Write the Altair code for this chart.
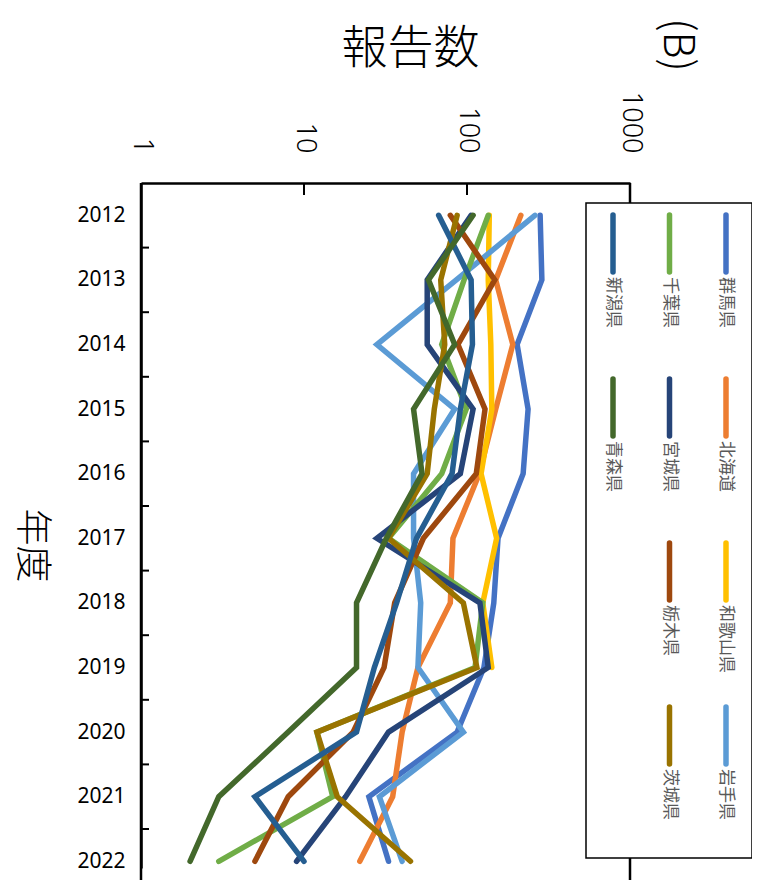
import altair as alt
import pandas as pd

years = list(range(2012, 2023))
prefs = ["群馬県", "北海道", "和歌山県", "岩手県", "千葉県",
         "宮城県", "栃木県", "茨城県", "新潟県", "青森県"]
colors = ["#4472C4", "#ED7D31", "#FFC000", "#5B9BD5", "#70AD47",
          "#264478", "#9E480E", "#997300", "#255E91", "#43682B"]

gunma    = [281, 288, 203, 237, 221, 155, 146, 127, 87, 25, 33]
hokkaido = [214, 150, 191, 150, 119, 82, 79, 50, 40, 35, 22]
wakayama = [137, 135, 140, 142, 122, 152, 125, 142, None, None, None]
iwate    = [261, 86, 28, 84, 47, 47, 52, 50, 95, 29, 40]
chiba    = [135, 96, 70, 99, 70, 33, 125, 112, 12, 15, 3]
miyagi   = [106, 57, 57, 109, 91, 28, 120, 135, 33, 18, 9]
tochigi  = [79, 148, 88, 129, 114, 54, 36, 31, 20, 8, 5]
ibaraki  = [87, 69, 73, 63, 57, 33, 95, 115, 12, 16, 45]
niigata  = [67, 106, 108, 91, 81, 49, 37, 27, 21, 5, 10]
aomori   = [109, 58, 84, 47, 53, 32, 21, 21, 8, 3, 2]

x_ticks = [1, 10, 100, 1000]

series = [gunma, hokkaido, wakayama, iwate, chiba,
          miyagi, tochigi, ibaraki, niigata, aomori]

rows = []
for p, vals in zip(prefs, series):
    for y, v in zip(years, vals):
        if v is not None:
            rows.append({"pref": p, "year": y, "count": v})
df = pd.DataFrame(rows)

W, H = 489, 685
PX_PER_YEAR = 64.6
y_domain = [2011.5, 2011.5 + H / PX_PER_YEAR]

color_scale = alt.Scale(domain=prefs, range=colors)
x_scale = alt.Scale(type="log", domain=[1, 1000], nice=False)
y_scale = alt.Scale(domain=y_domain, reverse=True, nice=False, zero=False)

JP = "Noto Sans CJK JP"

lines = alt.Chart(df).mark_line(strokeWidth=5.5, strokeCap="round", clip=False).encode(
    x=alt.X("count:Q", scale=x_scale,
            axis=alt.Axis(orient="top", values=x_ticks, format="d",
                          labelAngle=90, labelAlign="right", labelBaseline="middle",
                          labelFontSize=27, labelPadding=30, labelFont="Noto Sans",
                          labelFontWeight=300,
                          labelColor="black", labelFlush=False, labelOverlap=False,
                          ticks=False, grid=False, domainColor="black", domainWidth=2.5,
                          title="報告数", titleFont=JP, titleFontSize=46,
                          titleFontWeight=300, titleColor="black",
                          titleX=269, titleY=-135, titleAlign="center",
                          titleBaseline="middle")),
    y=alt.Y("year:Q", scale=y_scale,
            axis=alt.Axis(values=years, format="d", ticks=False, grid=False,
                          labelFontSize=21, labelPadding=16, labelFont="Noto Sans",
                          labelColor="black", labelFlush=False, labelOverlap=False,
                          domainColor="black", domainWidth=2.5,
                          title="年度", titleFont=JP, titleFontSize=37,
                          titleFontWeight=300, titleColor="black",
                          titleAngle=90, titleX=-111, titleY=362,
                          titleAlign="center", titleBaseline="middle")),
    color=alt.Color("pref:N", scale=color_scale, legend=None),
    order=alt.Order("year:Q"),
)

# inward tick marks
ytick_df = pd.DataFrame({"year": [y + 0.5 for y in years[:-1]]})
yticks = alt.Chart(ytick_df).mark_rule(color="black", strokeWidth=2).encode(
    y=alt.Y("year:Q", scale=y_scale), x=alt.value(0), x2=alt.value(8))

xtick_df = pd.DataFrame({"count": x_ticks[1:-1]})
xticks = alt.Chart(xtick_df).mark_rule(color="black", strokeWidth=2).encode(
    x=alt.X("count:Q", scale=x_scale), y=alt.value(0), y2=alt.value(12))

border_df = pd.DataFrame({"count": [x_ticks[0], x_ticks[-1]]})
side_borders = alt.Chart(border_df).mark_rule(color="black", strokeWidth=2.5).encode(
    x=alt.X("count:Q", scale=x_scale), y=alt.value(0), y2=alt.value(H + 12))

one = pd.DataFrame({"k": [0]})
legend_box = alt.Chart(one).mark_rect(fill="white", stroke="black", strokeWidth=1.5).encode(
    x=alt.value(445), x2=alt.value(611), y=alt.value(20), y2=alt.value(675))

leg_rows = []
for i, p in enumerate(prefs):
    col, row = i // 4, i % 4
    lx = 585 - col * 56.5
    ly = 32 + row * 164
    leg_rows.append({"pref": p, "lx": lx, "ly": ly, "ly2": ly + 57, "ty": ly + 62})
leg_df = pd.DataFrame(leg_rows)

leg_lines = alt.Chart(leg_df).mark_rule(strokeWidth=5.5, strokeCap="round").encode(
    x=alt.X("lx:Q", scale=None, axis=None),
    y=alt.Y("ly:Q", scale=None, axis=None),
    y2="ly2:Q",
    color=alt.Color("pref:N", scale=color_scale, legend=None),
)
leg_text = alt.Chart(leg_df).mark_text(angle=90, align="left", baseline="middle",
                                       fontSize=17, font=JP, color="#595959").encode(
    x=alt.X("lx:Q", scale=None, axis=None),
    y=alt.Y("ty:Q", scale=None, axis=None),
    text="pref:N",
)

panel_label = alt.Chart(one).mark_text(angle=90, align="center", baseline="middle",
                                       fontSize=42, font=JP, fontWeight=300,
                                       color="black", text="(B)").encode(
    x=alt.value(536), y=alt.value(-138))

chart = alt.layer(
    side_borders, yticks, xticks, lines, legend_box, leg_lines, leg_text, panel_label
).properties(
    width=W, height=H,
    autosize=alt.AutoSizeParams(type="none"),
    padding={"left": 133, "top": 175, "right": 122, "bottom": 12},
).configure_view(stroke=None)

chart.save("out.html", embed_options={"renderer": "svg", "actions": False})
